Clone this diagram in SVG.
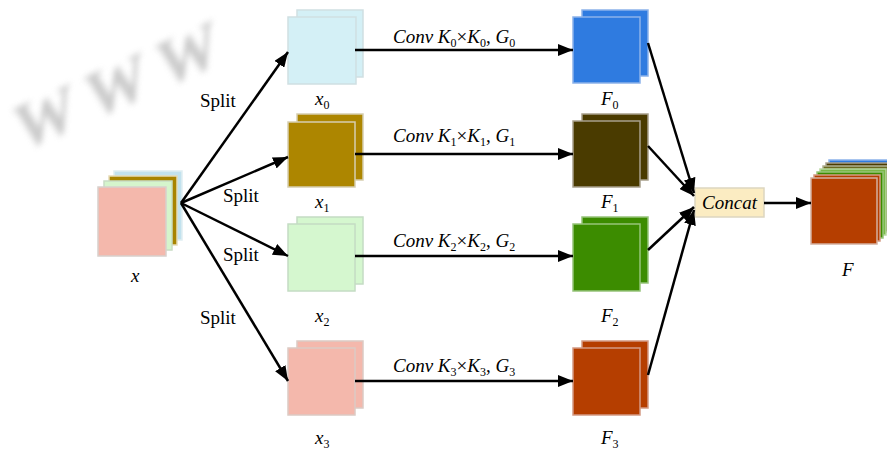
<svg xmlns="http://www.w3.org/2000/svg" width="887" height="451" viewBox="0 0 887 451">
<defs>
<marker id="ah" markerUnits="userSpaceOnUse" markerWidth="16" markerHeight="12" refX="15" refY="6" orient="auto">
<path d="M0,0 L15,6 L0,12 z" fill="#000"/>
</marker>
<filter id="blur" x="-20%" y="-50%" width="140%" height="200%"><feGaussianBlur stdDeviation="3"/></filter>
</defs>
<style>
.lbl{font-family:'Liberation Serif',serif;font-size:19px;fill:#000}
.it{font-style:italic}
.sub{font-size:12px;font-style:normal}
.sq{stroke-width:1.5}
.ln{stroke:#000;stroke-width:2.5;fill:none}
</style>
<rect width="887" height="451" fill="#fff"/>
<text x="48" y="140" transform="rotate(-24 48 140) skewX(-12)" font-family="Liberation Serif, serif" font-size="64" font-weight="bold" fill="#b4b4b4" filter="url(#blur)" opacity="0.7" letter-spacing="14">WWW</text>

<g id="input-x">
<rect class="sq" x="114" y="171" width="68" height="69" fill="#c2e2ee" stroke="#e0eef2"/>
<rect class="sq" x="109" y="176" width="68" height="69" fill="#a88400" stroke="#e6dcb8"/>
<rect class="sq" x="104" y="181" width="68" height="69" fill="#d5f5cc" stroke="#c8dcc4"/>
<rect class="sq" x="98" y="187" width="68" height="69" fill="#f4b8ac" stroke="#d8d0cc"/>
<text class="lbl it" x="131" y="282">x</text>
</g>

<g id="x0">
<rect class="sq" x="297" y="10" width="66" height="67" fill="#d4f0f6" stroke="#cfdfe2"/>
<rect class="sq" x="288" y="17" width="68" height="67" fill="#d4f0f6" stroke="#cfdfe2"/>
<text class="lbl" x="315" y="105"><tspan class="it">x</tspan><tspan class="sub" dy="4">0</tspan></text>
</g>
<g id="x1">
<rect class="sq" x="297" y="114" width="66" height="66" fill="#ad8600" stroke="#d6ceb0"/>
<rect class="sq" x="288" y="122" width="67" height="65" fill="#ad8600" stroke="#d6ceb0"/>
<text class="lbl" x="315" y="208"><tspan class="it">x</tspan><tspan class="sub" dy="4">1</tspan></text>
</g>
<g id="x2">
<rect class="sq" x="297" y="217" width="66" height="67" fill="#d5f7cf" stroke="#c4dcc4"/>
<rect class="sq" x="288" y="224" width="67" height="67" fill="#d5f7cf" stroke="#c4dcc4"/>
<text class="lbl" x="315" y="322"><tspan class="it">x</tspan><tspan class="sub" dy="4">2</tspan></text>
</g>
<g id="x3">
<rect class="sq" x="297" y="341" width="66" height="67" fill="#f4b8ac" stroke="#dccac4"/>
<rect class="sq" x="288" y="348" width="67" height="67" fill="#f4b8ac" stroke="#dccac4"/>
<text class="lbl" x="315" y="444"><tspan class="it">x</tspan><tspan class="sub" dy="4">3</tspan></text>
</g>

<g id="F0">
<rect class="sq" x="582" y="10" width="66" height="66" fill="#2f7be0" stroke="#8cb2ea"/>
<rect class="sq" x="573" y="17" width="67" height="66" fill="#2f7be0" stroke="#8cb2ea"/>
<text class="lbl" x="601" y="105"><tspan class="it">F</tspan><tspan class="sub" dy="4">0</tspan></text>
</g>
<g id="F1">
<rect class="sq" x="582" y="114" width="66" height="66" fill="#4a3b00" stroke="#a8a08c"/>
<rect class="sq" x="573" y="121" width="67" height="66" fill="#4a3b00" stroke="#a8a08c"/>
<text class="lbl" x="601" y="208"><tspan class="it">F</tspan><tspan class="sub" dy="4">1</tspan></text>
</g>
<g id="F2">
<rect class="sq" x="582" y="217" width="66" height="66" fill="#3c8c00" stroke="#96c47a"/>
<rect class="sq" x="573" y="224" width="67" height="67" fill="#3c8c00" stroke="#96c47a"/>
<text class="lbl" x="601" y="322"><tspan class="it">F</tspan><tspan class="sub" dy="4">2</tspan></text>
</g>
<g id="F3">
<rect class="sq" x="582" y="341" width="66" height="67" fill="#b53e00" stroke="#d49a84"/>
<rect class="sq" x="573" y="348" width="67" height="67" fill="#b53e00" stroke="#d49a84"/>
<text class="lbl" x="601" y="444"><tspan class="it">F</tspan><tspan class="sub" dy="4">3</tspan></text>
</g>

<g id="concat">
<rect x="695" y="188" width="69" height="29" fill="#fbecc2" stroke="#ddd6c0" stroke-width="1.5"/>
<text class="lbl it" x="729.5" y="209" text-anchor="middle">Concat</text>
</g>

<g id="F-out">
<rect class="sq" x="829" y="160" width="66" height="66" fill="#2f7be0" stroke="#8cb2ea"/>
<rect class="sq" x="826" y="163" width="66" height="66" fill="#4a3b00" stroke="#a8a08c"/>
<rect class="sq" x="823" y="166" width="66" height="66" fill="#6b6a20" stroke="#b0b090"/>
<rect class="sq" x="820" y="169" width="66" height="66" fill="#7ab848" stroke="#b8d8a0"/>
<rect class="sq" x="817" y="172" width="66" height="66" fill="#3c8c00" stroke="#96c47a"/>
<rect class="sq" x="814" y="175" width="66" height="66" fill="#b53e00" stroke="#d49a84"/>
<rect class="sq" x="811" y="178" width="66" height="66" fill="#b53e00" stroke="#d4b0a0"/>
<text class="lbl it" x="842" y="276">F</text>
</g>

<g id="connectors">
<line class="ln" x1="181" y1="203" x2="288" y2="52" marker-end="url(#ah)"/>
<line class="ln" x1="181" y1="203" x2="288" y2="157" marker-end="url(#ah)"/>
<line class="ln" x1="181" y1="203" x2="288" y2="256" marker-end="url(#ah)"/>
<line class="ln" x1="181" y1="203" x2="288" y2="381" marker-end="url(#ah)"/>
<line class="ln" x1="355" y1="50" x2="573" y2="50" marker-end="url(#ah)"/>
<line class="ln" x1="355" y1="154" x2="573" y2="154" marker-end="url(#ah)"/>
<line class="ln" x1="355" y1="256" x2="573" y2="256" marker-end="url(#ah)"/>
<line class="ln" x1="355" y1="381" x2="573" y2="381" marker-end="url(#ah)"/>
<line class="ln" x1="648" y1="43" x2="694" y2="193" marker-end="url(#ah)"/>
<line class="ln" x1="648" y1="146" x2="694" y2="196" marker-end="url(#ah)"/>
<line class="ln" x1="648" y1="250" x2="694" y2="207" marker-end="url(#ah)"/>
<line class="ln" x1="648" y1="375" x2="694" y2="210" marker-end="url(#ah)"/>
<line class="ln" x1="764" y1="203" x2="811" y2="203" marker-end="url(#ah)"/>
<text class="lbl" x="200" y="107">Split</text>
<text class="lbl" x="223" y="202">Split</text>
<text class="lbl" x="223" y="261">Split</text>
<text class="lbl" x="200" y="324">Split</text>
<text class="lbl" x="393" y="43"><tspan class="it">Conv K</tspan><tspan class="sub" dy="4">0</tspan><tspan dy="-4">×</tspan><tspan class="it">K</tspan><tspan class="sub" dy="4">0</tspan><tspan dy="-4">, </tspan><tspan class="it">G</tspan><tspan class="sub" dy="4">0</tspan></text>
<text class="lbl" x="393" y="142"><tspan class="it">Conv K</tspan><tspan class="sub" dy="4">1</tspan><tspan dy="-4">×</tspan><tspan class="it">K</tspan><tspan class="sub" dy="4">1</tspan><tspan dy="-4">, </tspan><tspan class="it">G</tspan><tspan class="sub" dy="4">1</tspan></text>
<text class="lbl" x="393" y="247"><tspan class="it">Conv K</tspan><tspan class="sub" dy="4">2</tspan><tspan dy="-4">×</tspan><tspan class="it">K</tspan><tspan class="sub" dy="4">2</tspan><tspan dy="-4">, </tspan><tspan class="it">G</tspan><tspan class="sub" dy="4">2</tspan></text>
<text class="lbl" x="393" y="372"><tspan class="it">Conv K</tspan><tspan class="sub" dy="4">3</tspan><tspan dy="-4">×</tspan><tspan class="it">K</tspan><tspan class="sub" dy="4">3</tspan><tspan dy="-4">, </tspan><tspan class="it">G</tspan><tspan class="sub" dy="4">3</tspan></text>
</g>
</svg>
